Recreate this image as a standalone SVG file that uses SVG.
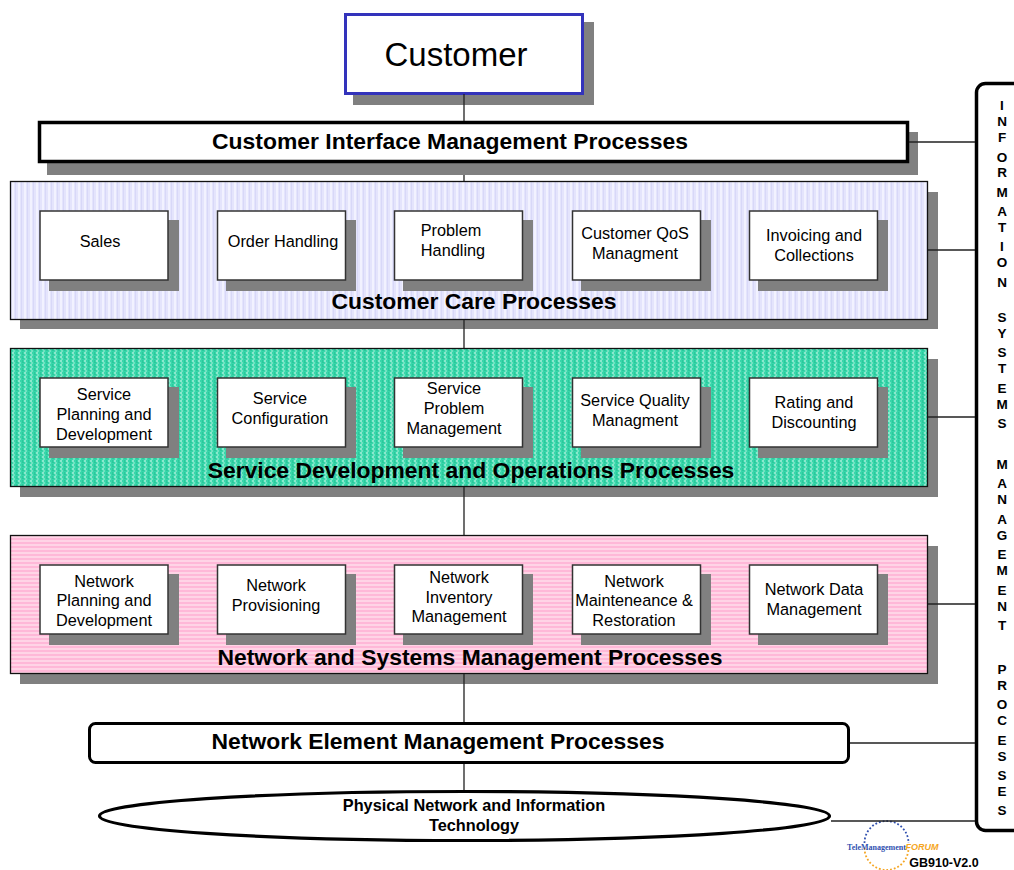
<svg xmlns="http://www.w3.org/2000/svg" width="1014" height="870" viewBox="0 0 1014 870">
<style>
text{font-family:"Liberation Sans",Arial,sans-serif;fill:#000;text-anchor:middle}
.s{fill:#808080;stroke:none}
.b{fill:#fff;stroke:#333;stroke-width:1.5}
.l{font-size:16.3px}
.h{font-size:22.9px;font-weight:bold}
.v{font-size:13.5px;font-weight:bold}
.c{stroke:#222;stroke-width:1.3;fill:none}
.p{stroke:#111;stroke-width:1.3}
</style>
<defs>
<pattern id="pv" width="6" height="4" patternUnits="userSpaceOnUse"><rect width="6" height="4" fill="#e4e4fc"/><rect width="2" height="4" fill="#f2f2ff"/><rect x="3" width="1" height="4" fill="#d8d8f8"/></pattern>
<pattern id="pg" width="6" height="4" patternUnits="userSpaceOnUse"><rect width="6" height="4" fill="#38d6aa"/><rect width="2" height="2" fill="#8ae8cd"/><rect x="1" y="2" width="2" height="2" fill="#70e2c1"/><rect x="4" width="1" height="2" fill="#2cc89c"/><rect x="4" y="2" width="2" height="1" fill="#2cc89c"/></pattern>
<pattern id="pp" width="4" height="4" patternUnits="userSpaceOnUse"><rect width="4" height="4" fill="#ffb8d8"/><rect width="4" height="2" fill="#ffd4e6"/></pattern>
</defs>
<g id="customer">
<rect class="s" x="353" y="22" width="241" height="83"/>
<rect x="345.500" y="14.500" width="237" height="79" fill="#fff" stroke="#3333bb" stroke-width="3"/>
<text x="456" y="66" font-size="33">Customer</text>
</g>
<g id="cim">
<rect class="s" x="47" y="132" width="871" height="43"/>
<rect x="39.500" y="122.500" width="868" height="39" fill="#fff" stroke="#000" stroke-width="3.500"/>
<text class="h" x="450" y="149">Customer Interface Management Processes</text>
</g>
<g id="care">
<rect class="s" x="20" y="192" width="918" height="137"/>
<rect class="p" x="10.500" y="181.500" width="917" height="138" fill="url(#pv)"/>
<text class="h" x="474" y="309">Customer Care Processes</text>
</g>
<g id="sales"><rect class="s" x="49" y="220" width="130" height="71"/><rect class="b" x="40" y="211" width="128" height="69"/><text class="l" x="100" y="247">Sales</text></g>
<g id="order"><rect class="s" x="226" y="220" width="130" height="71"/><rect class="b" x="217.500" y="211" width="128" height="69"/><text class="l" x="283" y="247">Order Handling</text></g>
<g id="problem"><rect class="s" x="403" y="220" width="130" height="71"/><rect class="b" x="394.500" y="211" width="128" height="69"/><text class="l" x="451" y="236">Problem</text><text class="l" x="453" y="256">Handling</text></g>
<g id="cqos"><rect class="s" x="581" y="220" width="130" height="71"/><rect class="b" x="572.500" y="211" width="128" height="69"/><text class="l" x="635" y="239">Customer QoS</text><text class="l" x="635" y="259">Managment</text></g>
<g id="invoicing"><rect class="s" x="758" y="220" width="130" height="71"/><rect class="b" x="749.500" y="211" width="128" height="69"/><text class="l" x="814" y="241">Invoicing and</text><text class="l" x="814" y="261">Collections</text></g>
<g id="service">
<rect class="s" x="20" y="359" width="918" height="138"/>
<rect class="p" x="10.500" y="348.500" width="917" height="138" fill="url(#pg)"/>
<text class="h" x="471" y="478">Service Development and Operations Processes</text>
</g>
<g id="spd"><rect class="s" x="49" y="387" width="130" height="71"/><rect class="b" x="40" y="378" width="128" height="69"/><text class="l" x="104" y="400">Service</text><text class="l" x="104" y="420">Planning and</text><text class="l" x="104" y="440">Development</text></g>
<g id="sconf"><rect class="s" x="226" y="387" width="130" height="71"/><rect class="b" x="217.500" y="378" width="128" height="69"/><text class="l" x="280" y="404">Service</text><text class="l" x="280" y="424">Configuration</text></g>
<g id="spm"><rect class="s" x="403" y="387" width="130" height="71"/><rect class="b" x="394.500" y="378" width="128" height="69"/><text class="l" x="454" y="394">Service</text><text class="l" x="454" y="414">Problem</text><text class="l" x="454" y="434">Management</text></g>
<g id="sqm"><rect class="s" x="581" y="387" width="130" height="71"/><rect class="b" x="572.500" y="378" width="128" height="69"/><text class="l" x="635" y="406">Service Quality</text><text class="l" x="635" y="426">Managment</text></g>
<g id="rating"><rect class="s" x="758" y="387" width="130" height="71"/><rect class="b" x="749.500" y="378" width="128" height="69"/><text class="l" x="814" y="408">Rating and</text><text class="l" x="814" y="428">Discounting</text></g>
<g id="network">
<rect class="s" x="20" y="546" width="918" height="138"/>
<rect class="p" x="10.500" y="535.500" width="917" height="138" fill="url(#pp)"/>
<text class="h" x="470" y="665">Network and Systems Management Processes</text>
</g>
<g id="npd"><rect class="s" x="49" y="574" width="130" height="71"/><rect class="b" x="40" y="565" width="128" height="69"/><text class="l" x="104" y="587">Network</text><text class="l" x="104" y="606">Planning and</text><text class="l" x="104" y="626">Development</text></g>
<g id="nprov"><rect class="s" x="226" y="574" width="130" height="71"/><rect class="b" x="217.500" y="565" width="128" height="69"/><text class="l" x="276" y="591">Network</text><text class="l" x="276" y="611">Provisioning</text></g>
<g id="ninv"><rect class="s" x="403" y="574" width="130" height="71"/><rect class="b" x="394.500" y="565" width="128" height="69"/><text class="l" x="459" y="583">Network</text><text class="l" x="459" y="603">Inventory</text><text class="l" x="459" y="622">Management</text></g>
<g id="nmr"><rect class="s" x="581" y="574" width="130" height="71"/><rect class="b" x="572.500" y="565" width="128" height="69"/><text class="l" x="634" y="587">Network</text><text class="l" x="634" y="606">Mainteneance &amp;</text><text class="l" x="634" y="626">Restoration</text></g>
<g id="ndm"><rect class="s" x="758" y="574" width="130" height="71"/><rect class="b" x="749.500" y="565" width="128" height="69"/><text class="l" x="814" y="595">Network Data</text><text class="l" x="814" y="615">Management</text></g>
<g id="nem">
<rect x="89.500" y="723.500" width="759" height="39" rx="6" fill="#fff" stroke="#000" stroke-width="3"/>
<text class="h" x="438" y="749">Network Element Management Processes</text>
</g>
<g id="physical">
<ellipse cx="464.500" cy="816" rx="365" ry="24.500" fill="#fff" stroke="#000" stroke-width="3.200"/>
<text x="474" y="811" font-size="16.300" font-weight="bold">Physical Network and Information</text>
<text x="474" y="831" font-size="16.300" font-weight="bold">Technology</text>
</g>
<g id="ism">
<rect x="976.500" y="83.500" width="50" height="747" rx="9" fill="#fff" stroke="#000" stroke-width="3.500"/>
<text class="v" x="1002" y="110">I</text><text class="v" x="1002" y="126">N</text><text class="v" x="1002" y="142">F</text><text class="v" x="1002" y="162">O</text><text class="v" x="1002" y="177">R</text><text class="v" x="1002" y="197">M</text><text class="v" x="1002" y="216">A</text><text class="v" x="1002" y="232">T</text><text class="v" x="1002" y="251">I</text><text class="v" x="1002" y="267">O</text><text class="v" x="1002" y="287">N</text>
<text class="v" x="1002" y="322">S</text><text class="v" x="1002" y="338">Y</text><text class="v" x="1002" y="357">S</text><text class="v" x="1002" y="373">T</text><text class="v" x="1002" y="393">E</text><text class="v" x="1002" y="409">M</text><text class="v" x="1002" y="428">S</text>
<text class="v" x="1002" y="469">M</text><text class="v" x="1002" y="488">A</text><text class="v" x="1002" y="504">N</text><text class="v" x="1002" y="524">A</text><text class="v" x="1002" y="540">G</text><text class="v" x="1002" y="559">E</text><text class="v" x="1002" y="575">M</text><text class="v" x="1002" y="595">E</text><text class="v" x="1002" y="611">N</text><text class="v" x="1002" y="630">T</text>
<text class="v" x="1002" y="674">P</text><text class="v" x="1002" y="690">R</text><text class="v" x="1002" y="709">O</text><text class="v" x="1002" y="725">C</text><text class="v" x="1002" y="745">E</text><text class="v" x="1002" y="761">S</text><text class="v" x="1002" y="780">S</text><text class="v" x="1002" y="796">E</text><text class="v" x="1002" y="815">S</text>
</g>
<g id="logo">
<path d="M864.500 843A22 22 0 0 1 908.500 843" fill="none" stroke="#3050b0" stroke-width="1.800" stroke-dasharray="1.800 2"/>
<path d="M864.500 848A21 21 0 0 0 908.500 848" fill="none" stroke="#f5a623" stroke-width="1.800" stroke-dasharray="1.800 2"/>
<text x="876.500" y="850" font-size="8" style="font-family:'Liberation Serif',serif;fill:#3050b0;font-weight:bold">TeleManagement</text>
<text x="922" y="850" font-size="9" font-style="italic" font-weight="bold" style="fill:#f5a623">FORUM</text>
<text x="944" y="867" font-size="12.500" font-weight="bold">GB910-V2.0</text>
</g>
<g id="connectors">
<path class="c" d="M464 94V121M464 175V181M464 320V348M464 487V535M464 674V722M464 764V790"/>
<path class="c" d="M909 142H975M928 250H975M928 417H975M928 604H975M850 743H975M831 821H975"/>
</g>
</svg>
